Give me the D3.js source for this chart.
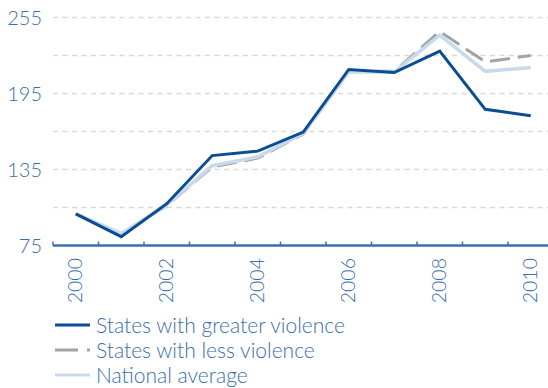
<!DOCTYPE html>
<html>
<head>
<meta charset="utf-8">
<script src="https://cdn.jsdelivr.net/npm/d3@7"></script>
<style>
  body { margin: 0; background: #fff; }
  svg { display: block; }
  text { font-family: Lato, "Open Sans", sans-serif; font-weight: 300; fill: #3a6eaa; }
</style>
</head>
<body>
<svg id="chart"></svg>
<script>
// data (index, 2000 = 100)
const years = [2000, 2001, 2002, 2003, 2004, 2005, 2006, 2007, 2008, 2009, 2010];
const greaterViolence = [100, 82, 108, 146, 149.5, 164.5, 214, 211.5, 228.5, 182.5, 177.5];
const lessViolence = [100, 84, 106.5, 137, 144, 163, 212.5, 212.5, 244, 220, 225];
const nationalAverage = [100, 84.5, 107, 138, 145, 163.5, 212, 212, 241, 212.5, 215.5];
const yTicks = [75, 135, 195, 255];
const gridTicks = [105, 135, 165, 195, 225, 255];
const yearLabels = [2000, 2002, 2004, 2006, 2008, 2010];

const series = [
  {name: "States with less violence", values: lessViolence, color: "#a3a3a3", width: 3, dash: "20,8"},
  {name: "National average", values: nationalAverage, color: "#c8d9eb", width: 3.5, dash: null},
  {name: "States with greater violence", values: greaterViolence, color: "#0b4d93", width: 3, dash: null}
];
const legendOrder = [series[2], series[0], series[1]];

const width = 548, height = 388;
const svg = d3.select('#chart').attr('width', width).attr('height', height);

const left = 53, axisY = 245.5;

// band per year, ticks sit on the band edges, points in the middle
const x = d3.scaleBand()
  .domain(years)
  .range([left, left + years.length * 45.5])
  .padding(0);

const y = d3.scaleLinear()
  .domain([75, 255])
  .range([axisY, 17.5]);

// grid lines
svg.append('g')
  .selectAll('line')
  .data(gridTicks)
  .join('line')
  .attr('x1', left)
  .attr('x2', width)
  .attr('y1', d => y(d))
  .attr('y2', d => y(d))
  .attr('stroke', '#d9d9d9')
  .attr('stroke-width', 1.5)
  .attr('stroke-dasharray', '5,4.5');

// y labels
svg.append('g')
  .selectAll('text')
  .data(yTicks)
  .join('text')
  .attr('x', 42)
  .attr('y', d => y(d))
  .attr('dy', '0.36em')
  .attr('text-anchor', 'end')
  .style('font-size', '20px')
  .text(d => d);

// x axis line + ticks
svg.append('line')
  .attr('x1', left)
  .attr('x2', width)
  .attr('y1', axisY)
  .attr('y2', axisY)
  .attr('stroke', '#3a70b0')
  .attr('stroke-width', 2.5);

svg.append('g')
  .selectAll('line')
  .data(years)
  .join('line')
  .attr('x1', d => x(d))
  .attr('x2', d => x(d))
  .attr('y1', axisY)
  .attr('y2', axisY - 4)
  .attr('stroke', '#3a70b0')
  .attr('stroke-width', 1.5);

// rotated year labels
svg.append('g')
  .selectAll('text')
  .data(yearLabels)
  .join('text')
  .attr('transform', d => `translate(${x(d) + x.bandwidth() / 2 - 1}, 258) rotate(-90)`)
  .attr('text-anchor', 'end')
  .attr('dy', '0.36em')
  .style('font-size', '19.5px')
  .text(d => d);

// lines
const line = d3.line()
  .x((d, i) => x(years[i]) + x.bandwidth() / 2)
  .y(d => y(d));

svg.append('g')
  .selectAll('path')
  .data(series)
  .join('path')
  .attr('d', d => line(d.values))
  .attr('fill', 'none')
  .attr('stroke', d => d.color)
  .attr('stroke-width', d => d.width)
  .attr('stroke-dasharray', d => d.dash)
  .attr('stroke-linejoin', 'miter');

// legend
const legend = svg.append('g')
  .selectAll('g')
  .data(legendOrder)
  .join('g')
  .attr('transform', (d, i) => `translate(55, ${325 + i * 25})`);

legend.append('line')
  .attr('x1', 0)
  .attr('x2', 35)
  .attr('stroke', d => d.color)
  .attr('stroke-width', 3)
  .attr('stroke-dasharray', d => d.dash ? '23,9' : null);

legend.append('text')
  .attr('x', 41)
  .attr('dy', '0.36em')
  .style('font-size', '21px')
  .text(d => d.name);
</script>
</body>
</html>
